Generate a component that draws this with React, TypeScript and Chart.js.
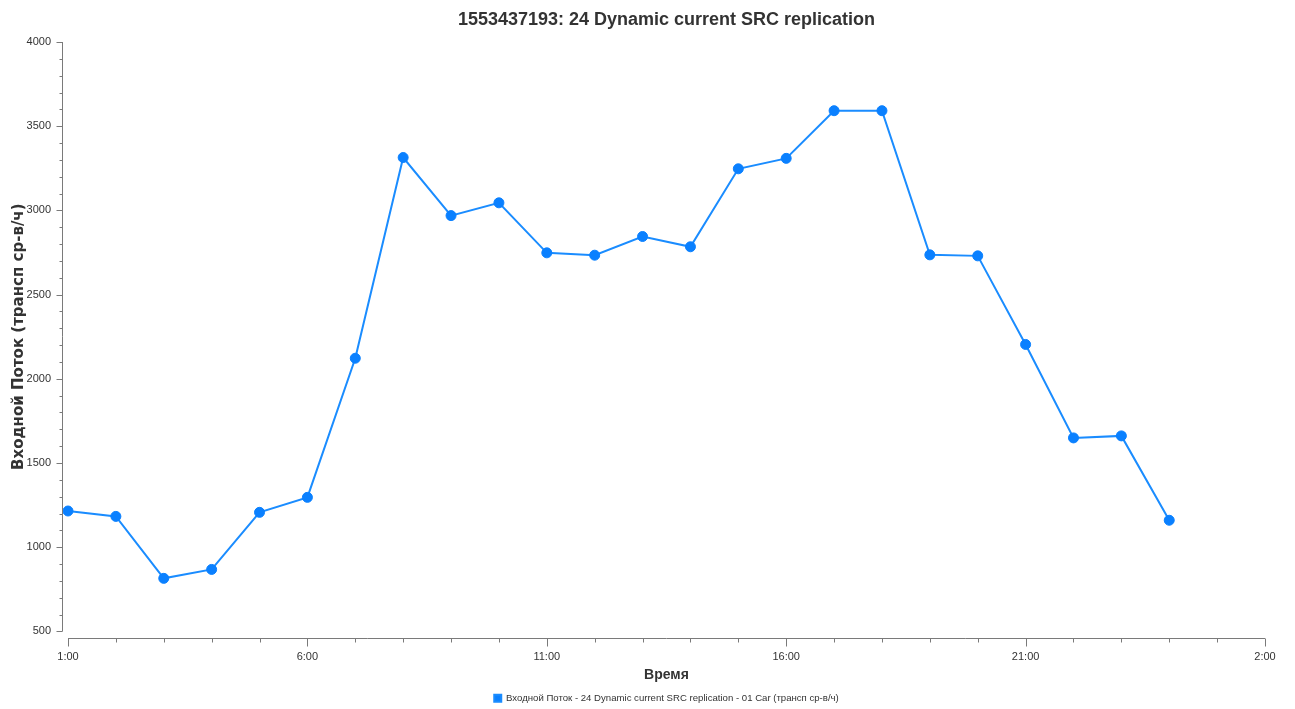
import React, { useEffect, useRef } from "react";
import { Chart, registerables } from "chart.js";

Chart.register(...registerables);

const chartTitle = "1553437193: 24 Dynamic current SRC replication";
const xTitle = "Время";
const yTitle = "Входной Поток (трансп ср-в/ч)";
const seriesLabel = "Входной Поток - 24 Dynamic current SRC replication - 01 Car (трансп ср-в/ч)";

const hours = [1, 2, 3, 4, 5, 6, 7, 8, 9, 10, 11, 12, 13, 14, 15, 16, 17, 18, 19, 20, 21, 22, 23, 24];
const flows = [1215, 1183, 815, 868, 1207, 1296, 2122, 3314, 2969, 3045, 2748, 2734, 2845, 2784, 3247, 3309, 3592, 3592, 2736, 2730, 2204, 1649, 1661, 1160];

const tickHours = [1, 6, 11, 16, 21, 26];
const tickLabels = ["1:00", "6:00", "11:00", "16:00", "21:00", "2:00"];

const xMin = 1;
const xMax = 26;
const yMin = 500;
const yMax = 4000;

const axisColor = "#7a7a7a";
const textColor = "#333333";

const axesPlugin = {
  id: "offsetAxes",
  afterDraw(chart: any) {
    const { ctx, chartArea } = chart;
    const xs = chart.scales.x;
    const ys = chart.scales.y;
    ctx.save();
    ctx.strokeStyle = axisColor;
    ctx.lineWidth = 1;
    // y axis
    const ax = Math.round(chartArea.left - 6) + 0.5;
    ctx.beginPath();
    ctx.moveTo(ax, chartArea.top);
    ctx.lineTo(ax, chartArea.bottom);
    ys.ticks.forEach((t: any) => {
      const py = Math.round(ys.getPixelForValue(t.value)) + 0.5;
      const len = t.value % 500 === 0 ? 6 : 3;
      ctx.moveTo(ax - len, py);
      ctx.lineTo(ax, py);
    });
    ctx.stroke();
    // x axis
    const ay = Math.round(chartArea.bottom + 7) + 0.5;
    ctx.beginPath();
    ctx.moveTo(chartArea.left, ay);
    ctx.lineTo(chartArea.right, ay);
    xs.ticks.forEach((t: any) => {
      const px = Math.round(xs.getPixelForValue(t.value)) + 0.5;
      const len = tickHours.includes(t.value) ? 8 : 4;
      ctx.moveTo(px, ay);
      ctx.lineTo(px, ay + len);
    });
    ctx.stroke();
    ctx.restore();
  },
};

export default function App() {
  const canvasRef = useRef<HTMLCanvasElement | null>(null);

  useEffect(() => {
    if (!canvasRef.current) return;
    const chart = new Chart(canvasRef.current, {
      type: "line",
      data: {
        datasets: [
          {
            label: seriesLabel,
            data: hours.map((h, i) => ({ x: h, y: flows[i] })),
            borderColor: "#1a8cff",
            backgroundColor: "#0a80ff",
            pointBackgroundColor: "#0a80ff",
            pointBorderColor: "#0a80ff",
            pointRadius: 5,
            pointBorderWidth: 1,
            borderWidth: 2,
            tension: 0,
            clip: false,
          },
        ],
      },
      options: {
        animation: false,
        responsive: true,
        maintainAspectRatio: false,
        layout: { padding: { left: 0, right: 30, top: 0, bottom: 0 } },
        plugins: {
          title: {
            display: true,
            fullSize: false,
            text: chartTitle,
            color: textColor,
            font: { family: "'Liberation Sans', Arial, sans-serif", size: 18, weight: "bold" },
            padding: { top: 9, bottom: 11.4 },
          },
          legend: {
            display: true,
            fullSize: false,
            position: "bottom",
            labels: {
              color: textColor,
              boxWidth: 7,
              boxHeight: 7,
              padding: 10,
              font: { family: "'Liberation Sans', Arial, sans-serif", size: 9.6 },
            },
          },
          tooltip: { enabled: false },
        },
        scales: {
          x: {
            type: "linear",
            min: xMin,
            max: xMax,
            grid: { display: false, drawTicks: false },
            border: { display: false },
            afterFit(scale: any) {
              scale.height = 52;
            },
            ticks: {
              stepSize: 1,
              autoSkip: false,
              maxRotation: 0,
              padding: 19,
              color: textColor,
              font: { family: "'Liberation Sans', Arial, sans-serif", size: 11 },
              callback: (v: any) => {
                const idx = tickHours.indexOf(Number(v));
                return idx >= 0 ? tickLabels[idx] : "";
              },
            },
            title: {
              display: true,
              text: xTitle,
              color: textColor,
              padding: 0,
              font: { family: "'Liberation Sans', Arial, sans-serif", size: 14, weight: "bold" },
            },
          },
          y: {
            min: yMin,
            max: yMax,
            grid: { display: false, drawTicks: false },
            border: { display: false },
            afterFit(scale: any) {
              scale.width = 68;
            },
            ticks: {
              stepSize: 100,
              autoSkip: false,
              padding: 17,
              color: textColor,
              font: { family: "'Liberation Sans', Arial, sans-serif", size: 11 },
              callback: (v: any) => (Number(v) % 500 === 0 ? String(v) : ""),
            },
            title: {
              display: true,
              text: yTitle,
              color: textColor,
              padding: { top: 10, bottom: 0 },
              font: { family: "'DejaVu Sans', Verdana, sans-serif", size: 15, weight: "bold" },
            },
          },
        },
      },
      plugins: [axesPlugin],
    });
    return () => chart.destroy();
  }, []);

  return (
    <div style={{ position: "fixed", left: 0, top: 0, width: 1295, height: 713, background: "#fff" }}>
      <canvas ref={canvasRef} />
    </div>
  );
}
